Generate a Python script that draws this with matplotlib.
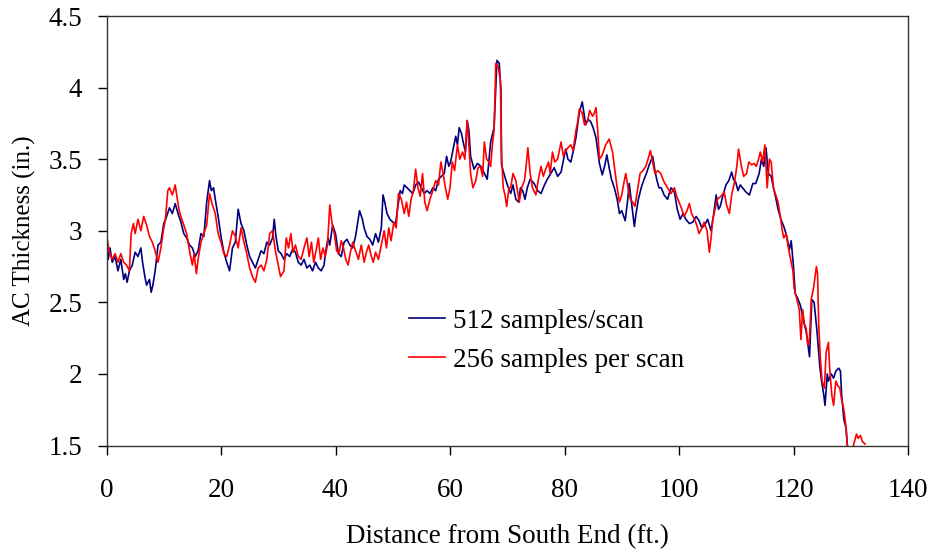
import matplotlib
matplotlib.use("Agg")
import matplotlib.pyplot as plt
from matplotlib.ticker import FuncFormatter

plt.rcParams['font.family'] = ['Liberation Serif', 'DejaVu Serif']

blue_x = [0,0.3,0.6,1,1.5,2,2.5,3,3.3,3.6,4,4.5,5,5.5,6,6.3,6.7,7,7.5,7.8,8.1,8.5,9,9.5,10,10.5,11,11.5,12,12.5,13,13.5,14,14.5,15,15.5,16,16.5,17,17.5,18,18.3,18.7,19,19.5,20,20.5,21,21.5,22,22.5,23,23.5,24,24.5,25,25.5,26,26.5,27,27.5,28,28.5,29,29.3,29.6,30,30.5,31,31.5,32,32.5,33,33.5,34,34.5,35,35.5,36,36.5,37,37.5,38,38.3,38.7,39,39.5,40,40.5,41,41.5,42,42.5,43,43.5,44.2,44.7,45,45.5,46,46.5,47,47.5,48,48.3,48.6,49,49.5,50,50.5,51,51.3,51.7,52,52.5,53,53.5,54,54.5,55,55.5,56,56.5,57,57.5,58,58.5,59,59.4,59.8,60.1,60.5,61,61.3,61.6,62,62.3,62.7,63,63.3,63.6,64.2,64.8,65.4,66,66.5,67.1,67.7,68.2,68.6,68.9,69.0,69.7,70.2,70.6,71,71.5,72,72.3,72.7,73.1,73.5,74,74.7,75.3,75.9,76.5,77,77.6,78.2,78.8,79.4,80.2,80.6,81.1,81.5,82,82.6,83.1,83.4,83.7,84.1,84.6,85,85.5,86.1,86.6,87,87.4,87.8,88.2,88.7,89.2,89.6,90.0,90.6,91,91.3,91.7,92.2,92.5,92.9,93.4,93.9,94.3,94.8,95.4,95.8,96.1,96.5,96.9,97.4,98,98.6,99.2,99.7,100.2,100.7,101.2,101.8,102.4,103,103.5,104,104.5,105,105.6,106,106.5,106.9,107.2,107.7,108.2,108.7,109.2,109.5,109.9,110.3,110.7,111.1,111.7,112.3,112.9,113.4,114.0,114.4,114.8,115.2,115.6,116.1,116.5,116.9,117.3,117.8,118.3,118.7,119.3,119.6,120,120.3,120.7,121.2,121.8,122.2,122.8,123.2,123.6,124.1,124.6,124.9,125.3,125.5,125.9,126.1,126.6,127,127.4,127.9,128.2,128.4,128.8,129.2,129.5]
blue_y = [2.95,2.80,2.88,2.78,2.82,2.72,2.80,2.66,2.70,2.64,2.72,2.76,2.85,2.82,2.88,2.78,2.68,2.62,2.66,2.57,2.62,2.72,2.90,2.92,3.05,3.10,3.16,3.12,3.19,3.12,3.06,2.98,2.95,2.90,2.88,2.82,2.86,2.98,2.96,3.20,3.35,3.28,3.30,3.22,3.10,2.96,2.85,2.78,2.72,2.88,2.92,3.15,3.05,3.00,2.90,2.82,2.78,2.74,2.80,2.86,2.84,2.92,2.90,2.95,3.08,2.96,2.86,2.84,2.80,2.84,2.82,2.87,2.85,2.78,2.76,2.80,2.74,2.76,2.72,2.78,2.74,2.72,2.76,2.86,2.95,2.90,3.04,2.98,2.84,2.82,2.92,2.94,2.90,2.88,2.96,3.14,3.08,3.02,2.96,2.94,2.90,2.98,2.92,3.02,3.25,3.20,3.12,3.08,3.06,3.05,3.20,3.28,3.26,3.32,3.30,3.28,3.26,3.32,3.34,3.30,3.26,3.28,3.26,3.30,3.28,3.36,3.38,3.40,3.52,3.45,3.48,3.56,3.66,3.60,3.72,3.68,3.62,3.55,3.77,3.70,3.52,3.43,3.47,3.45,3.40,3.36,3.62,3.72,4.19,4.17,3.98,3.46,3.36,3.30,3.26,3.32,3.22,3.20,3.30,3.28,3.22,3.30,3.36,3.33,3.28,3.26,3.32,3.36,3.40,3.44,3.38,3.41,3.57,3.50,3.48,3.55,3.65,3.83,3.90,3.82,3.74,3.78,3.76,3.72,3.65,3.47,3.39,3.45,3.53,3.44,3.36,3.30,3.22,3.12,3.14,3.07,3.20,3.33,3.20,3.03,3.12,3.22,3.30,3.36,3.40,3.46,3.52,3.42,3.36,3.30,3.30,3.25,3.22,3.30,3.27,3.15,3.08,3.12,3.08,3.05,3.06,3.10,3.07,3.02,3.04,3.08,3.00,3.10,3.25,3.15,3.17,3.25,3.32,3.35,3.41,3.36,3.34,3.28,3.32,3.30,3.27,3.25,3.33,3.33,3.40,3.50,3.45,3.58,3.40,3.38,3.30,3.23,3.15,3.08,3.03,2.98,2.87,2.93,2.75,2.56,2.53,2.48,2.36,2.30,2.12,2.52,2.50,2.30,2.05,1.95,1.85,1.78,2.00,1.95,2.00,1.97,2.02,2.04,2.02,1.86,1.68,1.62,1.45]

red_x = [0,0.5,1,1.5,2,2.5,3,3.5,4,4.3,4.7,5,5.5,6,6.5,7,7.5,8,8.5,9,9.5,10,10.3,10.7,11,11.5,12,12.3,12.7,13,13.5,14,14.5,15,15.3,15.7,16,16.5,17,17.5,18,18.5,19,19.5,20,20.5,21,21.5,22,22.5,23,23.5,24,24.5,25,25.5,26,26.5,27,27.5,28,28.5,29,29.5,30,30.4,31,31.4,31.8,32.2,32.6,33,33.5,34,34.5,35,35.4,35.8,36.2,36.6,37,37.4,37.8,38.2,38.6,39,39.4,39.8,40.2,40.6,41,41.4,41.8,42.2,42.6,43,43.5,44,44.5,45,45.4,45.8,46.2,46.6,47,47.5,48,48.5,48.9,49.3,49.7,50.2,50.6,51,51.5,52,52.4,52.8,53.2,53.6,54,54.4,54.8,55.2,55.6,56,56.5,57,57.5,58,58.4,58.8,59.2,59.6,60,60.4,60.8,61.3,61.7,62.2,62.6,63,63.3,63.6,64,64.5,64.9,65.3,65.7,66,66.4,66.8,67.1,67.4,67.7,68,68.4,68.8,69.0,69.3,69.6,69.9,70.3,70.6,71,71.5,72.1,72.5,73,73.3,73.6,74,74.4,75,75.4,75.9,76.3,76.7,77.2,77.5,77.9,78.3,78.8,79.1,79.4,79.8,80.1,80.6,81.1,81.5,82.0,82.3,82.6,83.1,83.5,84.0,84.4,84.9,85.2,85.5,85.8,86.1,86.6,87.2,87.8,88.4,88.8,89.2,89.6,90,90.4,90.7,91.1,91.5,91.9,92.3,92.8,93.2,93.7,94.2,94.6,95,95.4,95.8,96.3,96.8,97.4,98,98.6,99.2,99.6,100,100.5,100.9,101.4,101.8,102.2,102.7,103.1,103.5,104,104.4,104.9,105.3,105.6,105.9,106.3,106.7,107.3,107.9,108.3,108.8,109.2,109.7,110.1,110.4,110.9,111.3,111.8,112.2,112.7,113.1,113.5,113.9,114.2,114.6,115,115.4,115.8,116.1,116.5,116.9,117.3,117.7,118,118.3,118.7,119.1,119.4,119.9,120.1,120.6,121,121.3,121.6,121.9,122.2,122.5,122.8,123.1,123.5,124,124.2,124.4,124.7,125,125.4,125.7,126.1,126.3,126.7,127,127.4,127.7,128.1,128.4,128.8,129.1,129.4,129.7,130.2,130.6,131,131.3,131.7,132,132.5]
red_y = [2.97,2.85,2.80,2.84,2.78,2.84,2.78,2.76,2.72,2.98,3.05,2.98,3.08,3.00,3.10,3.04,2.96,2.92,2.86,2.78,2.88,3.02,3.08,3.28,3.30,3.25,3.32,3.24,3.14,3.10,3.04,2.98,2.86,2.76,2.84,2.70,2.80,2.92,2.98,3.04,3.26,3.18,3.12,2.98,2.92,2.84,2.82,2.90,3.00,2.96,2.88,3.02,2.92,2.84,2.74,2.68,2.64,2.74,2.76,2.72,2.80,2.98,3.00,2.86,2.76,2.68,2.72,2.95,2.88,2.98,2.85,2.90,2.82,2.80,2.88,2.95,2.82,2.92,2.78,2.86,2.95,2.80,2.88,2.82,2.90,3.18,3.05,2.98,2.86,2.84,2.93,2.88,2.80,2.76,2.85,2.92,2.86,2.80,2.90,2.78,2.85,2.90,2.83,2.78,2.85,2.80,2.90,3.00,2.88,3.02,2.93,3.06,3.02,3.26,3.22,3.12,3.20,3.10,3.22,3.28,3.43,3.30,3.24,3.40,3.20,3.14,3.22,3.28,3.35,3.32,3.48,3.40,3.30,3.22,3.30,3.48,3.42,3.60,3.50,3.55,3.50,3.77,3.60,3.40,3.30,3.35,3.44,3.45,3.38,3.62,3.50,3.48,3.45,3.60,3.70,4.17,4.15,4.05,3.53,3.30,3.25,3.17,3.30,3.30,3.40,3.35,3.20,3.30,3.35,3.45,3.58,3.40,3.30,3.25,3.35,3.45,3.38,3.43,3.48,3.40,3.55,3.48,3.50,3.56,3.62,3.52,3.55,3.58,3.60,3.56,3.70,3.76,3.85,3.82,3.74,3.76,3.84,3.80,3.82,3.86,3.70,3.50,3.53,3.60,3.64,3.55,3.42,3.30,3.20,3.25,3.34,3.40,3.30,3.22,3.20,3.17,3.30,3.40,3.42,3.45,3.50,3.56,3.48,3.40,3.42,3.40,3.34,3.30,3.26,3.30,3.24,3.20,3.15,3.10,3.14,3.19,3.12,3.08,3.04,2.98,3.02,3.06,3.00,2.85,2.95,3.08,3.15,3.22,3.24,3.27,3.18,3.12,3.25,3.34,3.45,3.57,3.45,3.38,3.40,3.48,3.46,3.47,3.45,3.50,3.55,3.48,3.60,3.30,3.50,3.48,3.30,3.25,3.20,3.10,3.01,2.95,2.98,2.88,2.82,2.72,2.60,2.52,2.45,2.24,2.45,2.35,2.32,2.20,2.25,2.52,2.60,2.75,2.70,2.35,2.10,1.95,1.90,2.15,2.22,2.05,1.85,1.78,1.95,1.92,1.90,1.82,1.75,1.65,1.50,1.45,1.45,1.52,1.58,1.55,1.57,1.53,1.51]

series_labels = ["512 samples/scan", "256 samples per scan"]
x_ticks = [0, 20, 40, 60, 80, 100, 120, 140]
y_ticks = [1.5, 2, 2.5, 3, 3.5, 4, 4.5]

W, H = 933, 550
fig = plt.figure(figsize=(W / 100, H / 100), dpi=100)
ax = fig.add_axes([106.5 / W, (H - 445.5) / H, 801.5 / W, 429.5 / H])
ax.plot(blue_x, blue_y, color='#000080', lw=1.2, label=series_labels[0])
ax.plot(red_x, red_y, color='#FF0000', lw=1.2, label=series_labels[1])
ax.set_xlim(0, 140)
ax.set_ylim(1.5, 4.5)
ax.set_xticks(x_ticks)
ax.set_yticks(y_ticks)
ax.yaxis.set_major_formatter(FuncFormatter(lambda v, p: f"{v:g}"))
ax.tick_params(axis='both', direction='out', length=6.3, width=1, labelsize=19.5)
ax.tick_params(axis='x', pad=17)
ax.tick_params(axis='y', pad=11)
for s in ax.spines.values():
    s.set_linewidth(1.0)
    s.set_color('#333333')
ax.set_xlabel("Distance from South End (ft.)", fontsize=19.5, labelpad=15)
ax.set_ylabel("AC Thickness (in.)", fontsize=18, labelpad=9)
ax.legend(loc='center left', bbox_to_anchor=(0.377, 0.2437), frameon=False,
          fontsize=19.5, handlelength=1.33, labelspacing=0.52, handletextpad=0.3,
          borderpad=0, borderaxespad=0)
fig.savefig("out.png", dpi=100)
